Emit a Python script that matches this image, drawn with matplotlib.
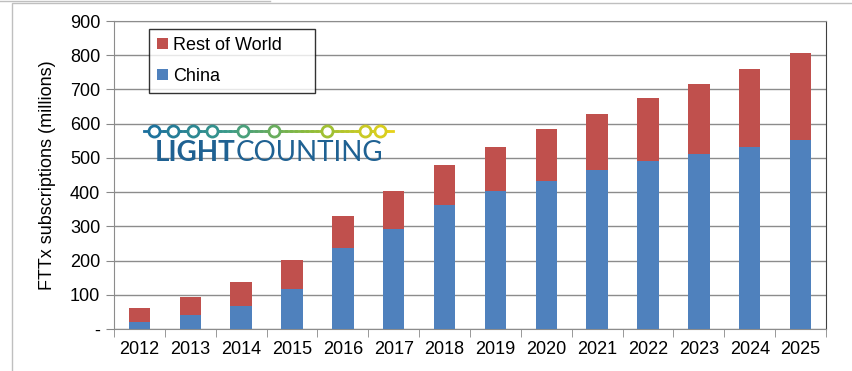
import numpy as np
import matplotlib.pyplot as plt
from matplotlib.patches import Rectangle
from matplotlib.colors import LinearSegmentedColormap

plt.rcParams['font.family'] = ['Liberation Sans', 'DejaVu Sans']

years = ['2012', '2013', '2014', '2015', '2016', '2017', '2018',
         '2019', '2020', '2021', '2022', '2023', '2024', '2025']
china = [20, 41, 67, 117, 237, 292, 362, 403, 432, 465, 491, 511, 532, 552]
total = [61, 94, 137, 202, 330, 403, 479, 532, 584, 628, 675, 716, 759, 806]
rest_of_world = [t - c for t, c in zip(total, china)]

yticks = [0, 100, 200, 300, 400, 500, 600, 700, 800, 900]
ytick_labels = ['-'] + [str(v) for v in yticks[1:]]

blue = '#4F81BD'
red = '#C0504D'

W, H = 852, 371
fig = plt.figure(figsize=(8.52, 3.71), dpi=100)
ax = fig.add_axes([114 / W, 42 / H, 712 / W, 308 / H])

x = np.arange(len(years))
ax.bar(x, china, width=0.42, color=blue, label='China', zorder=3)
ax.bar(x, rest_of_world, width=0.42, bottom=china, color=red,
       label='Rest of World', zorder=3)

ax.set_xlim(-0.5, len(years) - 0.5)
ax.set_ylim(0, 900)
ax.set_yticks(yticks)
ax.set_yticklabels(ytick_labels, fontsize=13)
ax.set_xticks(x)
ax.set_xticklabels(years, fontsize=13)
ax.set_xticks(np.arange(len(years) + 1) - 0.5, minor=True)
ax.tick_params(axis='x', which='major', length=0, pad=9)
ax.tick_params(axis='x', which='minor', length=6, color='#888888', direction='out')
ax.tick_params(axis='y', length=6, color='#888888', direction='out', pad=4)
ax.set_ylabel('FTTx subscriptions (millions)', fontsize=13, labelpad=10)

ax.yaxis.grid(True, color='#8c8c8c', linewidth=1.0, zorder=0)
ax.set_axisbelow(True)
for side in ['left', 'top', 'bottom']:
    ax.spines[side].set_color('#8c8c8c')
ax.spines['right'].set_color('#404040')

handles, labels = ax.get_legend_handles_labels()
leg = ax.legend(handles[::-1], labels[::-1], loc='upper left',
                bbox_to_anchor=(35 / 712, 300 / 308, 166 / 712, 0.0),
                mode='expand', fontsize=13, frameon=True,
                fancybox=False, edgecolor='black', handlelength=0.6,
                handleheight=0.6, handletextpad=0.3, borderpad=0.45,
                labelspacing=0.75, borderaxespad=0)
leg.get_frame().set_linewidth(1.0)

# logo
logo_cmap = LinearSegmentedColormap.from_list(
    'lc', ['#1a6e9e', '#3a9a8a', '#8dbb3a', '#e6d21a'])
line_y = 1 - 131 / H
x0, x1 = 144, 393
seg = np.linspace(x0, x1, 50)
for i in range(len(seg) - 1):
    c = logo_cmap(i / (len(seg) - 2))
    fig.add_artist(plt.Line2D([seg[i] / W, seg[i + 1] / W], [line_y, line_y],
                              color=c, linewidth=2, transform=fig.transFigure))
for cx in [154, 173, 193, 212, 243, 274, 327, 365, 380]:
    col = logo_cmap((cx - x0) / (x1 - x0))
    fig.add_artist(plt.Line2D([cx / W], [line_y], marker='o', markersize=8,
                              markerfacecolor='white', markeredgecolor=col,
                              markeredgewidth=2, transform=fig.transFigure))
logo_col = '#1f6192'
t1 = fig.text(155 / W, 1 - 153 / H, 'LIGHT', fontsize=20, fontweight='bold',
              color=logo_col, va='center', ha='left', family='Lato')
r = fig.canvas.get_renderer()
bb = t1.get_window_extent(renderer=r)
t2 = fig.text(bb.x1 / W, 1 - 153 / H, 'COUNTING', fontsize=20,
              color=logo_col, va='center', ha='left', family='Lato')

# chart frame
fig.add_artist(Rectangle((12 / W, -0.01), 1.0, 1 - 3 / H + 0.01,
                         transform=fig.transFigure, fill=False,
                         edgecolor='#bfbfbf', linewidth=1))
fig.add_artist(plt.Line2D([0, 270 / W], [1 - 0.5 / H, 1 - 0.5 / H],
                          color='#bfbfbf', linewidth=1, transform=fig.transFigure))

fig.savefig('out.png', dpi=100)
